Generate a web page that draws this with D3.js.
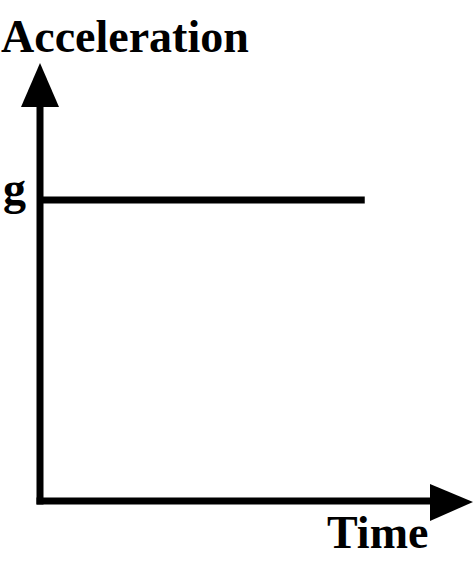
<!DOCTYPE html>
<html>
<head>
<meta charset="utf-8">
<script src="https://cdn.jsdelivr.net/npm/d3@7"></script>
<style>
  body { margin: 0; background: #fff; }
  text { font-family: "Liberation Serif", "Times New Roman", serif; font-weight: bold; }
</style>
</head>
<body>
<div id="canvas"></div>
<script>
// data: acceleration stays at g over time (in units of g)
const times = [0, 0.75];
const accel = [1, 1];
const yTickValues = [1];
const yTickLabels = ["g"];
const xTitle = "Time";
const yTitle = "Acceleration";

const width = 474;
const height = 579;

const svg = d3.select("#canvas").append("svg")
    .attr("width", width)
    .attr("height", height);

const x = d3.scaleLinear().domain([0, 1]).range([40, 473]);
const y = d3.scaleLinear().domain([0, 1]).range([501, 200]);

// axes drawn as thick lines with arrowheads
const axisStroke = 7;
svg.append("line")
    .attr("x1", x(0)).attr("x2", x(0))
    .attr("y1", y(0) + axisStroke / 2).attr("y2", 100)
    .attr("stroke", "#000").attr("stroke-width", axisStroke);
svg.append("path")
    .attr("d", `M${x(0)},63 L${x(0) - 19},107 L${x(0) + 19},107 Z`)
    .attr("fill", "#000");

svg.append("line")
    .attr("x1", x(0) - axisStroke / 2).attr("x2", 435)
    .attr("y1", y(0)).attr("y2", y(0))
    .attr("stroke", "#000").attr("stroke-width", axisStroke);
svg.append("path")
    .attr("d", `M${x(1)},${y(0) + 1} L430,${y(0) - 17} L430,${y(0) + 20} Z`)
    .attr("fill", "#000");

// y tick label "g"
const yAxis = svg.append("g")
    .attr("transform", `translate(${x(0) - 4},0)`)
    .call(d3.axisLeft(y)
        .tickValues(yTickValues)
        .tickFormat((d, i) => yTickLabels[i])
        .tickSize(0)
        .tickPadding(0));
yAxis.select(".domain").remove();
yAxis.selectAll("text")
    .attr("x", -33)
    .attr("dy", "0.08em")
    .attr("text-anchor", "start")
    .style("font-family", "'Liberation Serif', serif")
    .style("font-weight", "bold")
    .style("font-size", "46px")
    .attr("fill", "#000");

// the data line
const line = d3.line()
    .x((d, i) => x(times[i]))
    .y(d => y(d));
svg.append("path")
    .datum(accel)
    .attr("d", line)
    .attr("fill", "none")
    .attr("stroke", "#000")
    .attr("stroke-width", 7);

// titles
svg.append("text")
    .attr("x", 1).attr("y", 52)
    .style("font-size", "46px")
    .text(yTitle);
svg.append("text")
    .attr("x", 327).attr("y", 548)
    .style("font-size", "46px")
    .text(xTitle);
</script>
</body>
</html>
